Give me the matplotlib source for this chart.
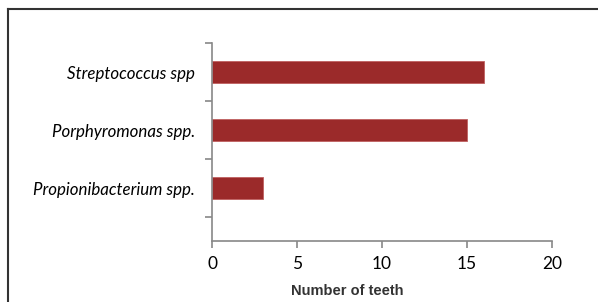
import matplotlib.pyplot as plt
from matplotlib.lines import Line2D

categories = ['Streptococcus spp', 'Porphyromonas spp.', 'Propionibacterium spp.']
teeth = [16, 15, 3]
x_ticks = [0, 5, 10, 15, 20]

W, H = 598, 302
fig = plt.figure(figsize=(W / 100, H / 100), dpi=100)
ax = fig.add_axes([212 / W, 1 - 241 / H, 340 / W, 198 / H])

pos = list(range(len(categories)))
ax.barh(pos, teeth, height=0.38, color='#9b2a2a', edgecolor='#c06060', linewidth=0.6)

ax.set_xlim(0, 20)
ax.set_ylim(2.91, -0.5)
ax.set_xticks(x_ticks)
ax.set_xticklabels([str(v) for v in x_ticks], family='Lato', fontsize=12.5)

# category labels sit between boundary ticks, like Excel
ax.set_yticks([-0.5, 0.5, 1.5, 2.5])
ax.set_yticklabels([])
ax.set_yticks(pos, minor=True)
ax.set_yticklabels(categories, minor=True, family='Lato', style='italic', fontsize=12.2)
ax.tick_params(axis='y', which='minor', length=0, pad=12)
ax.tick_params(axis='y', which='major', length=5, color='#888888', width=1.2)
ax.tick_params(axis='x', length=5, color='#888888', width=1.2, pad=6)

for s in ['top', 'right']:
    ax.spines[s].set_visible(False)
for s in ['left', 'bottom']:
    ax.spines[s].set_color('#888888')
    ax.spines[s].set_linewidth(1.2)

ax.set_xlabel('Number of teeth', family='Liberation Sans', fontweight='bold', fontsize=10.5, color='#333333')
ax.xaxis.set_label_coords(0.397, -0.215)

# outer frame (top and left only visible in crop)
fig.add_artist(Line2D([8 / W, 1], [1 - 9 / H, 1 - 9 / H], color='#333333', lw=1.5))
fig.add_artist(Line2D([8 / W, 8 / W], [0, 1 - 9 / H], color='#333333', lw=1.5))

fig.savefig('out.png', dpi=100)
